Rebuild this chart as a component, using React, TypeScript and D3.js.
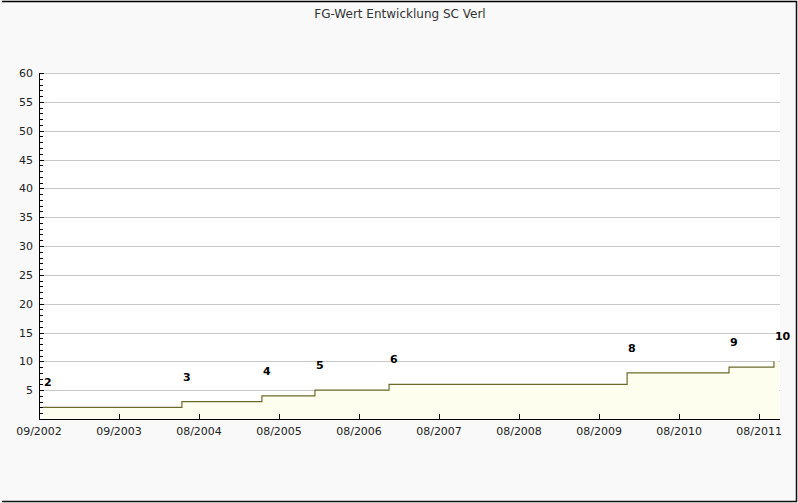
import React, { useEffect, useRef } from "react";
import * as d3 from "d3";

// FG-Wert steps (date the value changed, new value)
const stepDates = [
  "2002-09-19",
  "2004-06-14",
  "2005-06-14",
  "2006-02-11",
  "2007-01-15",
  "2010-01-05",
  "2011-04-15",
  "2011-11-06",
];
const stepValues = [2, 3, 4, 5, 6, 8, 9, 10];

// x tick dates (one every 365 days from the start)
const xTickDates = [
  "2002-09-01",
  "2003-09-01",
  "2004-08-31",
  "2005-08-31",
  "2006-08-31",
  "2007-08-31",
  "2008-08-30",
  "2009-08-30",
  "2010-08-30",
  "2011-08-30",
];
const yTicks = [5, 10, 15, 20, 25, 30, 35, 40, 45, 50, 55, 60];

const title = "FG-Wert Entwicklung SC Verl";

const App = () => {
  const ref = useRef<SVGSVGElement>(null);

  useEffect(() => {
    const width = 798;
    const height = 503;
    const left = 39;
    const right = 779;
    const top = 73;
    const bottom = 419;
    const font = "DejaVu Sans, sans-serif";

    const svg = d3.select(ref.current);
    svg.selectAll("*").remove();

    const parse = d3.timeParse("%Y-%m-%d");
    const fmt = d3.timeFormat("%m/%Y");
    const data = stepDates.map((d, i) => ({ date: parse(d) as Date, value: stepValues[i] }));

    const x = d3
      .scaleTime()
      .domain([parse("2002-09-01") as Date, parse("2011-11-29") as Date])
      .range([left, right]);
    const y = d3.scaleLinear().domain([0, 60]).range([bottom, top]);

    // background + frame
    svg.append("rect").attr("width", width).attr("height", height).attr("fill", "#f9f9f9");
    svg.append("rect")
      .attr("x", left)
      .attr("y", top)
      .attr("width", right - left + 1)
      .attr("height", bottom - top)
      .attr("fill", "#ffffff");
    svg.append("line").attr("x1", 2).attr("x2", 797).attr("y1", 1.5).attr("y2", 1.5).attr("stroke", "#000").attr("stroke-width", 1.5);
    svg.append("line").attr("x1", 796.5).attr("x2", 796.5).attr("y1", 1).attr("y2", 502).attr("stroke", "#111").attr("stroke-width", 1.5);
    svg.append("line").attr("x1", 2).attr("x2", 797).attr("y1", 501.5).attr("y2", 501.5).attr("stroke", "#111").attr("stroke-width", 1.5);

    // title
    svg.append("text")
      .attr("x", 400)
      .attr("y", 18)
      .attr("text-anchor", "middle")
      .attr("font-family", font)
      .attr("font-size", 12)
      .attr("fill", "#333")
      .text(title);

    // grid lines
    svg.append("g")
      .selectAll("line")
      .data(yTicks)
      .join("line")
      .attr("x1", left + 1)
      .attr("x2", right + 1)
      .attr("y1", (d) => Math.round(y(d)) + 0.5)
      .attr("y2", (d) => Math.round(y(d)) + 0.5)
      .attr("stroke", "#c8c8c8");

    // area + step line
    const areaData = [...data, { date: x.domain()[1], value: data[data.length - 1].value }];
    const area = d3
      .area<{ date: Date; value: number }>()
      .curve(d3.curveStepAfter)
      .x((d) => x(d.date))
      .y0(bottom)
      .y1((d) => y(d.value));
    svg.append("path").attr("d", area(areaData)).attr("fill", "#fefeef");

    const line = d3
      .line<{ date: Date; value: number }>()
      .curve(d3.curveStepAfter)
      .x((d) => x(d.date))
      .y((d) => y(d.value));
    svg.append("path")
      .attr("d", line(data))
      .attr("fill", "none")
      .attr("stroke", "#6b6a2c")
      .attr("stroke-width", 1.2);

    // value labels
    svg.append("g")
      .selectAll("text")
      .data(data)
      .join("text")
      .attr("x", (d) => x(d.date) + 1)
      .attr("y", (d) => y(d.value) - 21)
      .attr("font-family", font)
      .attr("font-size", 11)
      .attr("font-weight", "bold")
      .attr("fill", "#000")
      .text((d) => d.value);

    // y axis
    const yAxis = svg.append("g");
    yAxis.append("line")
      .attr("x1", left + 0.5)
      .attr("x2", left + 0.5)
      .attr("y1", top)
      .attr("y2", bottom + 1)
      .attr("stroke", "#000");
    yAxis.selectAll("line.minor")
      .data(d3.range(1, 61))
      .join("line")
      .attr("class", "minor")
      .attr("x1", left)
      .attr("x2", (d) => (d % 5 === 0 ? left + 5 : left + 4))
      .attr("y1", (d) => Math.round(y(d)) + 0.5)
      .attr("y2", (d) => Math.round(y(d)) + 0.5)
      .attr("stroke", "#000");
    yAxis.selectAll("text")
      .data(yTicks)
      .join("text")
      .attr("x", 33)
      .attr("y", (d) => y(d) + 4)
      .attr("text-anchor", "end")
      .attr("font-family", font)
      .attr("font-size", 11)
      .attr("fill", "#222")
      .text((d) => d);

    // x axis
    const xAxis = svg.append("g");
    xAxis.append("line")
      .attr("x1", left)
      .attr("x2", right + 1)
      .attr("y1", bottom + 0.5)
      .attr("y2", bottom + 0.5)
      .attr("stroke", "#000");
    const xt = xTickDates.map((d) => parse(d) as Date);
    xAxis.selectAll("line.tick")
      .data(xt)
      .join("line")
      .attr("class", "tick")
      .attr("x1", (d) => Math.round(x(d)) + 0.5)
      .attr("x2", (d) => Math.round(x(d)) + 0.5)
      .attr("y1", bottom - 5)
      .attr("y2", bottom)
      .attr("stroke", "#000");
    xAxis.selectAll("text")
      .data(xt)
      .join("text")
      .attr("x", (d) => x(d))
      .attr("y", bottom + 16)
      .attr("text-anchor", "middle")
      .attr("font-family", font)
      .attr("font-size", 11)
      .attr("fill", "#222")
      .text((d) => fmt(d));
  }, []);

  return (
    <svg
      ref={ref}
      width={798}
      height={503}
      style={{ position: "fixed", left: 0, top: 0, display: "block" }}
    />
  );
};

export default App;
